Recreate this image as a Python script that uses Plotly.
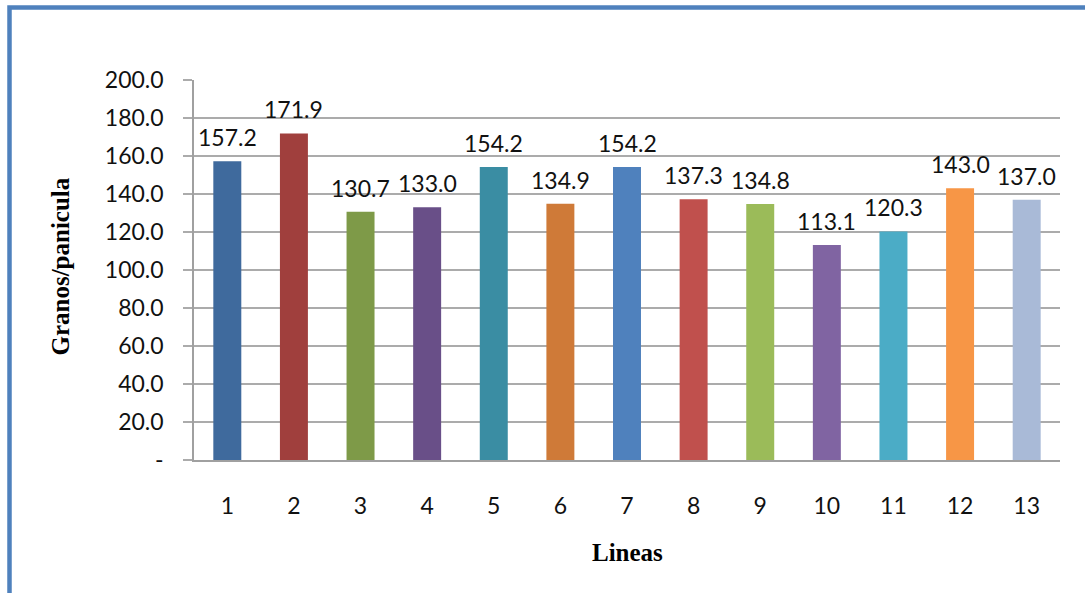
import plotly.graph_objects as go

# data
lineas = ["1", "2", "3", "4", "5", "6", "7", "8", "9", "10", "11", "12", "13"]
granos = [157.2, 171.9, 130.7, 133.0, 154.2, 134.9, 154.2, 137.3, 134.8, 113.1, 120.3, 143.0, 137.0]
colores = ["#3F6A9D", "#A03F3D", "#7E9A48", "#694F88", "#3A8DA3", "#CF7A38", "#4F81BD",
           "#C0504D", "#9BBB59", "#8064A2", "#4BACC6", "#F79646", "#A9BAD7"]
y_ticks = [0, 20, 40, 60, 80, 100, 120, 140, 160, 180, 200]
y_ticktext = ["-"] + [f"{v:.1f}" for v in y_ticks[1:]]

W, H = 1085, 593
ML, MR, MT, MB = 194, 25, 80, 133
PW, PH = W - ML - MR, H - MT - MB

FONT = "Lato, Noto Sans, sans-serif"
SERIF = "Liberation Serif, Times New Roman, serif"

fig = go.Figure()

fig.add_trace(go.Bar(
    x=lineas,
    y=granos,
    marker=dict(color=colores, line=dict(width=0)),
    hoverinfo="x+y",
))

# value labels above each bar (category axis -> use the index position)
for i, val in enumerate(granos):
    fig.add_annotation(
        x=i, y=val, text=f"{val:.1f}", showarrow=False,
        yanchor="bottom", yshift=8,
        font=dict(family=FONT, size=23, color="#111"),
    )

# axis titles
fig.add_annotation(
    xref="paper", yref="paper", x=0.5, y=0, yshift=-108,
    text="<b>Lineas</b>", showarrow=False,
    font=dict(family=SERIF, size=25, color="#000"),
)
fig.add_annotation(
    xref="paper", yref="paper", x=0, y=0.5, xshift=-150, yshift=3,
    text="<b>Granos/panicula</b>", showarrow=False, textangle=-90,
    font=dict(family=SERIF, size=25, color="#000"),
)

# blue frame around the chart
fig.add_shape(
    type="rect", xref="paper", yref="paper",
    x0=(9.5 - ML) / PW, x1=(1120 - ML) / PW,
    y0=(MT + PH - 640) / PH, y1=(MT + PH - 7.5) / PH,
    line=dict(color="#4F81BD", width=4.5), layer="below",
)

fig.update_layout(
    width=W, height=H,
    margin=dict(l=ML, r=MR, t=MT, b=MB, autoexpand=False),
    paper_bgcolor="white", plot_bgcolor="white",
    bargap=0.58,
    showlegend=False,
    font=dict(family=FONT, size=23, color="#111"),
)

fig.update_xaxes(
    type="category",
    range=[-0.5, len(lineas) - 0.5],
    showgrid=False,
    showline=True, linecolor="#A0A0A0", linewidth=1.5,
    ticks="", ticklabelstandoff=25,
    tickfont=dict(size=23),
)

fig.update_yaxes(
    range=[0, 200],
    tickvals=y_ticks, ticktext=y_ticktext,
    showgrid=True, gridcolor="#ABABAB", gridwidth=1.5,
    showline=True, linecolor="#A0A0A0", linewidth=1.5,
    ticks="outside", ticklen=9, tickcolor="#ABABAB", tickwidth=1.5,
    ticklabelstandoff=15,
    tickfont=dict(size=23),
    zeroline=False,
)

# drop the default 8px page margin so the figure fills the window
fig.write_html(
    "out.html",
    config={"displayModeBar": False},
    post_script="document.body.style.margin = '0';",
)
